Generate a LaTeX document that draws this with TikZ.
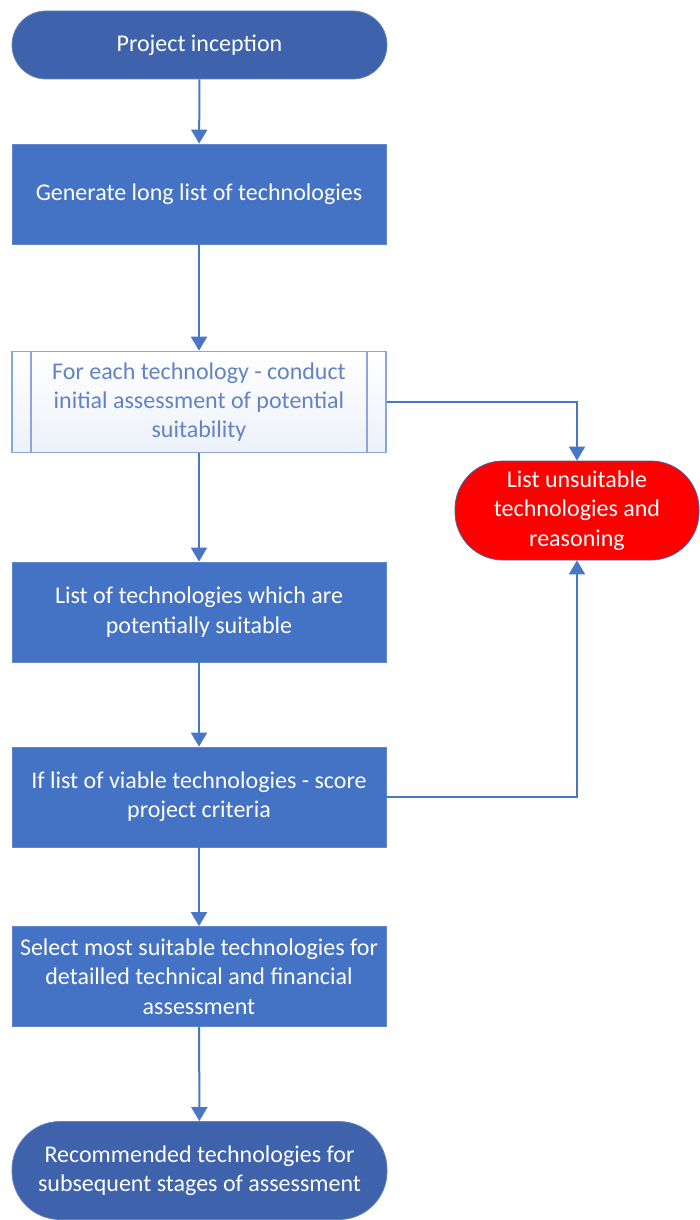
\documentclass[tikz,border=0pt]{standalone}
\usepackage{fontspec}
\setmainfont{Carlito}
\usepackage{xcolor}
\usepackage{tikz}
\usetikzlibrary{arrows.meta}
\definecolor{boxblue}{HTML}{4472C4}
\definecolor{termblue}{HTML}{3E63AC}
\definecolor{lineblue}{HTML}{4A76C6}
\definecolor{predline}{HTML}{8AA6DA}
\definecolor{predtext}{HTML}{6283C4}
\definecolor{stopred}{HTML}{FF0000}

\begin{document}
\begin{tikzpicture}[
        x=0.5pt, y=-0.5pt,
        font=\fontsize{12}{14.7}\selectfont,
        term/.style={draw=termblue!80!white, fill=termblue, text=white, rectangle, rounded corners=17pt, minimum width=187.5pt, minimum height=34pt, align=center, inner sep=0pt},
        box/.style={draw=boxblue!85!white, fill=boxblue, text=white, rectangle, minimum width=187pt, minimum height=50pt, align=center, inner sep=0pt},
        predbox/.style={draw=predline, thick, top color=white, bottom color=boxblue!10!white, text=predtext, rectangle, minimum width=187pt, minimum height=50.5pt, align=center, inner sep=0pt},
        redterm/.style={draw=termblue, fill=stopred, text=white, rectangle, rounded corners=24pt, minimum width=122pt, minimum height=49.5pt, align=center, inner sep=0pt},
        flow/.style={draw=lineblue, line width=1pt, -{Triangle[length=7pt, width=8pt]}}
    ]
        \useasboundingbox (0,0) rectangle (700,1220);

        % Start
        \node[term] (start) at (199.5,45) {Project inception};

        % Long list
        \node[box] (longlist) at (199,194) {Generate long list of technologies};
        \draw[flow] (start) -- (longlist);

        % Initial assessment (predefined process)
        \node[predbox] (assess) at (199,402) {For each technology - conduct\\initial assessment of potential\\suitability};
        \draw[predline, thick] ([xshift=10pt]assess.north west) -- ([xshift=10pt]assess.south west);
        \draw[predline, thick] ([xshift=-10pt]assess.north east) -- ([xshift=-10pt]assess.south east);
        \draw[flow] (longlist) -- (assess);

        % Unsuitable
        \node[redterm] (unsuit) at (577,510.5) {List unsuitable\\technologies and\\reasoning};
        \draw[flow] (assess.east) -| (unsuit.north);

        % Potentially suitable
        \node[box] (suitable) at (199,612) {List of technologies which are\\potentially suitable};
        \draw[flow] (assess) -- (suitable);

        % Score criteria
        \node[box] (score) at (199,797) {If list of viable technologies - score\\project criteria};
        \draw[flow] (suitable) -- (score);
        \draw[flow] (score.east) -| (unsuit.south);

        % Select
        \node[box] (select) at (199,976.5) {Select most suitable technologies for\\detailled technical and financial\\assessment};
        \draw[flow] (score) -- (select);

        % End
        \node[term, minimum height=49pt, rounded corners=24pt] (recommend) at (199.5,1170.5) {Recommended technologies for\\subsequent stages of assessment};
        \draw[flow] (select) -- (recommend);

    \end{tikzpicture}
\end{document}
